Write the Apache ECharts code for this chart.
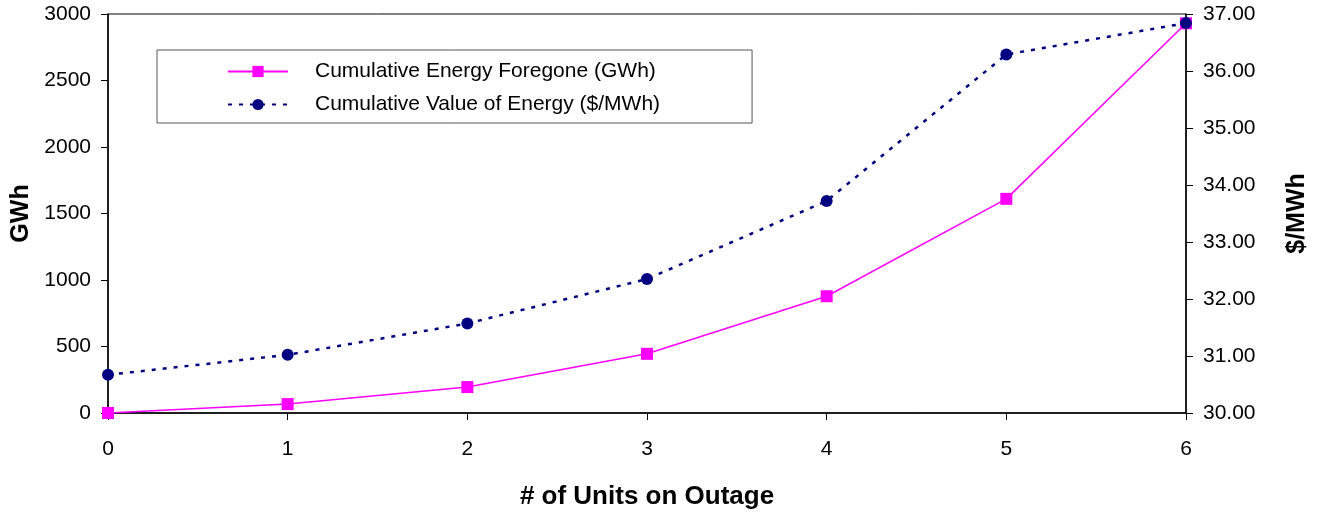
<!DOCTYPE html>
<html>
<head>
<meta charset="utf-8">
<script src="https://cdn.jsdelivr.net/npm/echarts@6/dist/echarts.min.js"></script>
<style>html,body{margin:0;padding:0;background:#fff}#c{width:1319px;height:515px}</style>
</head>
<body>
<div id="c"></div>
<script>
var units = [0, 1, 2, 3, 4, 5, 6];
var energyGWh = [0, 67, 195, 445, 878, 1610, 2930];
var valuePerMWh = [30.67, 31.02, 31.57, 32.35, 33.72, 36.29, 36.84];
var seriesNames = ['Cumulative Energy Foregone (GWh)', 'Cumulative Value of Energy ($/MWh)'];

var font = 'Liberation Sans, Arial, sans-serif';
var chart = echarts.init(document.getElementById('c'), null, {renderer: 'canvas'});
chart.setOption({
  animation: false,
  backgroundColor: '#fff',
  textStyle: {fontFamily: font},
  grid: {left: 108, right: 133, top: 14, bottom: 102, containLabel: false, outerBoundsMode: 'none',
    show: true, borderColor: '#000', borderWidth: 1, backgroundColor: 'transparent'},
  legend: {
    orient: 'vertical', left: 157, top: 50,
    padding: [11, 92, 8, 70],
    borderColor: '#555', borderWidth: 1,
    itemWidth: 60, itemHeight: 14, itemGap: 12,
    textStyle: {fontFamily: font, fontSize: 21, color: '#000', padding: [0, 0, 0, 22]},
    data: seriesNames
  },
  xAxis: {
    type: 'value', min: 0, max: 6, interval: 1,
    name: '# of Units on Outage', nameLocation: 'middle', nameGap: 71,
    nameTextStyle: {fontFamily: font, fontSize: 26, fontWeight: 'bold', color: '#000'},
    axisLine: {lineStyle: {color: '#000', width: 1.5}},
    axisTick: {show: true, length: 7, lineStyle: {color: '#000'}},
    axisLabel: {color: '#000', fontSize: 21, margin: 26, fontFamily: font},
    splitLine: {show: false}
  },
  yAxis: [{
    type: 'value', min: 0, max: 3000, interval: 500, position: 'left',
    name: 'GWh', nameLocation: 'middle', nameGap: 66, nameRotate: 90,
    nameTextStyle: {fontFamily: font, fontSize: 25, fontWeight: 'bold', color: '#000'},
    axisLine: {show: true, lineStyle: {color: '#000', width: 1.5}},
    axisTick: {show: true, length: 7, lineStyle: {color: '#000'}},
    axisLabel: {color: '#000', fontSize: 21, margin: 17, fontFamily: font, formatter: function (v) { return String(v); }},
    splitLine: {show: false}
  }, {
    type: 'value', min: 30, max: 37, interval: 1, position: 'right',
    name: '$/MWh', nameLocation: 'middle', nameGap: 99, nameRotate: 90,
    nameTextStyle: {fontFamily: font, fontSize: 25, fontWeight: 'bold', color: '#000'},
    axisLine: {show: true, lineStyle: {color: '#000', width: 1.5}},
    axisTick: {show: true, length: 7, lineStyle: {color: '#000'}},
    axisLabel: {color: '#000', fontSize: 21, margin: 17, fontFamily: font, formatter: function (v) { return v.toFixed(2); }},
    splitLine: {show: false}
  }],
  series: [{
    name: seriesNames[0], type: 'line', yAxisIndex: 0,
    data: units.map(function (u, i) { return [u, energyGWh[i]]; }),
    symbol: 'rect', symbolSize: 12,
    lineStyle: {color: '#ff00ff', width: 1.5},
    itemStyle: {color: '#ff00ff'},
    z: 3
  }, {
    name: seriesNames[1], type: 'line', yAxisIndex: 1,
    data: units.map(function (u, i) { return [u, valuePerMWh[i]]; }),
    symbol: 'circle', symbolSize: 12,
    lineStyle: {color: '#000080', width: 2.5, type: [4, 7]},
    itemStyle: {color: '#000080'},
    z: 4
  }]
});
</script>
</body>
</html>
